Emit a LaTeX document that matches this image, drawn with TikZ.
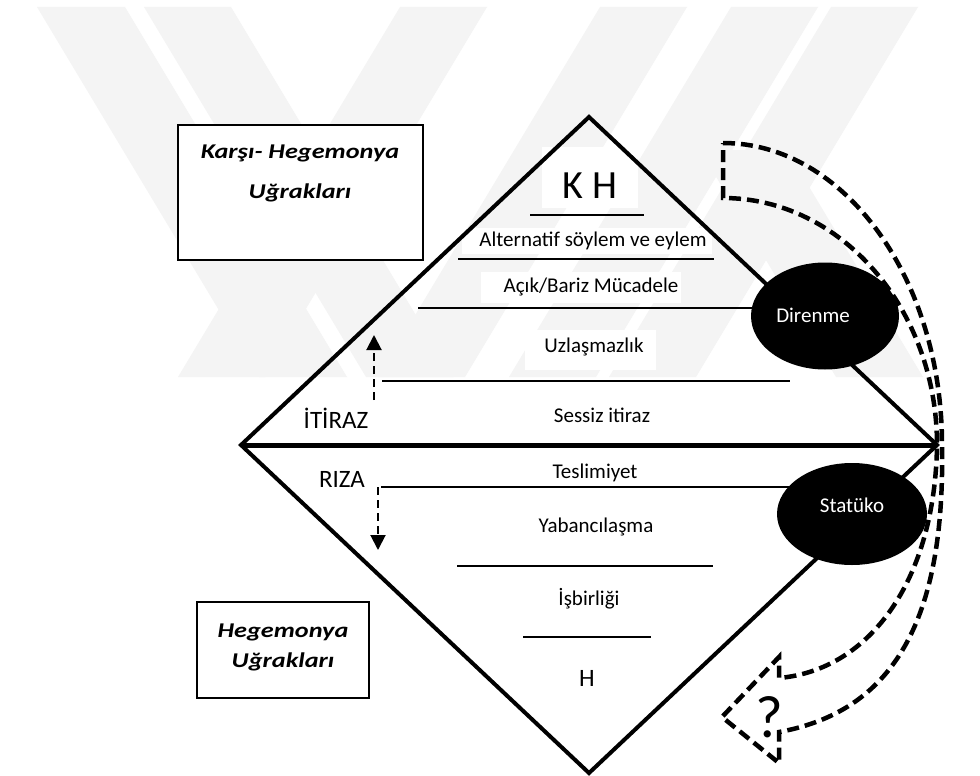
\documentclass[tikz,border=0pt]{standalone}
\usepackage{fontspec}
\setmainfont{Carlito}
\newfontfamily\widefont[FakeStretch=1.25]{Carlito}
\usetikzlibrary{shapes.geometric,arrows.meta}

\definecolor{wmgray}{gray}{0.957}

\tikzset{
  edge/.style={line width=4pt, line join=miter},
  midline/.style={line width=5pt},
  rule/.style={line width=1.8pt},
  lbl/.style={font=\fontsize{21}{25}\selectfont, inner sep=0pt, anchor=base},
  patch/.style={fill=white, draw=none},
  biglbl/.style={font=\fontsize{25}{30}\selectfont, inner sep=0pt, anchor=base},
  boxlbl/.style={font=\widefont\bfseries\itshape\fontsize{21}{25}\selectfont, inner sep=0pt, anchor=base},
  framebox/.style={draw, fill=white, line width=1.3pt, inner sep=0pt},
  blob/.style={ellipse, fill=black, draw=none, inner sep=0pt},
  blobtext/.style={font=\fontsize{21}{25}\selectfont, text=white, inner sep=0pt, anchor=base},
  shortarrow/.style={line width=2pt, dash pattern=on 8pt off 5pt,
    -{Triangle[width=15pt,length=15pt]}},
  bigdash/.style={line width=4.5pt, dash pattern=on 12pt off 6pt, line join=miter},
  band/.style={fill=wmgray, draw=none}
}

\begin{document}
\begin{tikzpicture}[x=1pt,y=-1pt]
\useasboundingbox (0,0) rectangle (980,776);
\fill[white] (0,0) rectangle (980,776);

% faint diagonal background bands
\fill[band] (37,7) -- (125,7) -- (347,377) -- (259,377) -- cycle;
\fill[band] (144,7) -- (231,7) -- (453,377) -- (366,377) -- cycle;
\fill[band] (400,7) -- (487,7) -- (265,377) -- (178,377) -- cycle;
\fill[band] (600,7) -- (687,7) -- (465,377) -- (378,377) -- cycle;
\fill[band] (731,7) -- (818,7) -- (596,377) -- (509,377) -- cycle;
\fill[band] (831,7) -- (918,7) -- (696,377) -- (609,377) -- cycle;
\fill[band] (700,150) -- (787,150) -- (923,377) -- (836,377) -- cycle;

% white patches behind some level labels
\fill[patch] (542,147) rectangle (638,208);
\fill[patch] (462,228) rectangle (712,254);
\fill[patch] (481,272) rectangle (681,303);
\fill[patch] (525,330) rectangle (656,370);

% corner points of the diamond
\coordinate (T) at (589,117);
\coordinate (L) at (241,445);
\coordinate (R) at (937,445);
\coordinate (B) at (589,773);

% horizontal rules between the levels
\coordinate (r1a) at (530,215); \coordinate (r1b) at (644,215);
\coordinate (r2a) at (458,259); \coordinate (r2b) at (714,259);
\coordinate (r3a) at (418,308); \coordinate (r3b) at (825,308);
\coordinate (r4a) at (382,381); \coordinate (r4b) at (790,381);
\coordinate (r5a) at (381,487); \coordinate (r5b) at (852,487);
\coordinate (r6a) at (457,566); \coordinate (r6b) at (713,566);
\coordinate (r7a) at (523,637); \coordinate (r7b) at (651,637);
\draw[rule] (r1a) -- (r1b);
\draw[rule] (r2a) -- (r2b);
\draw[rule] (r3a) -- (r3b);
\draw[rule] (r4a) -- (r4b);
\draw[rule] (r5a) -- (r5b);
\draw[rule] (r6a) -- (r6b);
\draw[rule] (r7a) -- (r7b);

% the diamond and its middle line
\draw[edge] (T) -- (R) -- (B) -- (L) -- cycle;
\draw[midline] (L) -- (R);

% level labels
\node[lbl, font=\fontsize{40}{46}\selectfont] (kh) at (590,198) {K H};
\node[lbl] (alt) at (593,246) {Alternatif söylem ve eylem};
\node[lbl] (acik) at (591,292) {Açık/Bariz Mücadele};
\node[lbl] (uzl) at (594,352) {Uzlaşmazlık};
\node[lbl] (ses) at (602,422) {Sessiz itiraz};
\node[lbl] (tes) at (595,478) {Teslimiyet};
\node[lbl] (yab) at (596,532) {Yabancılaşma};
\node[lbl] (isb) at (589,605) {İşbirliği};
\node[biglbl] (h) at (587,686) {H};

\node[biglbl] (itiraz) at (336,428) {İTİRAZ};
\node[biglbl] (riza) at (342,487) {RIZA};

% direction arrows beside İTİRAZ and RIZA
\coordinate (upA) at (374,400); \coordinate (upB) at (374,335);
\coordinate (dnA) at (378,487); \coordinate (dnB) at (378,550);
\draw[shortarrow] (upA) -- (upB);
\draw[shortarrow] (dnA) -- (dnB);

% side boxes
\node[framebox, minimum width=245pt, minimum height=135pt] (khbox) at (300.5,192.5) {};
\node[boxlbl] (kht1) at (300,158) {Karşı- Hegemonya};
\node[boxlbl] (kht2) at (300,198) {Uğrakları};

\node[framebox, minimum width=172pt, minimum height=96pt] (hbox) at (283,650) {};
\node[boxlbl] (ht1) at (283,637) {Hegemonya};
\node[boxlbl] (ht2) at (283,667) {Uğrakları};

% black ellipses
\node[blob, minimum width=148pt, minimum height=107pt] (dir) at (825,316) {};
\node[blobtext] at (813,322) {Direnme};
\node[blob, minimum width=150pt, minimum height=102pt] (sta) at (852,514) {};
\node[blobtext] at (852,512) {Statüko};

% dashed curved block arrow
\draw[bigdash] (723,143) .. controls (844,143) and (942,278) .. (942,445)
  .. controls (945,610) and (900,710) .. (779,732)
  -- (779,763) -- (722,717) -- (779,657) -- (779,678)
  .. controls (870,670) and (935,580) .. (937,445)
  .. controls (937,309) and (841,198) .. (723,198) -- cycle;
\node[font=\fontsize{60}{70}\selectfont, inner sep=0pt, anchor=base] (q) at (769,737) {?};
\end{tikzpicture}
\end{document}
